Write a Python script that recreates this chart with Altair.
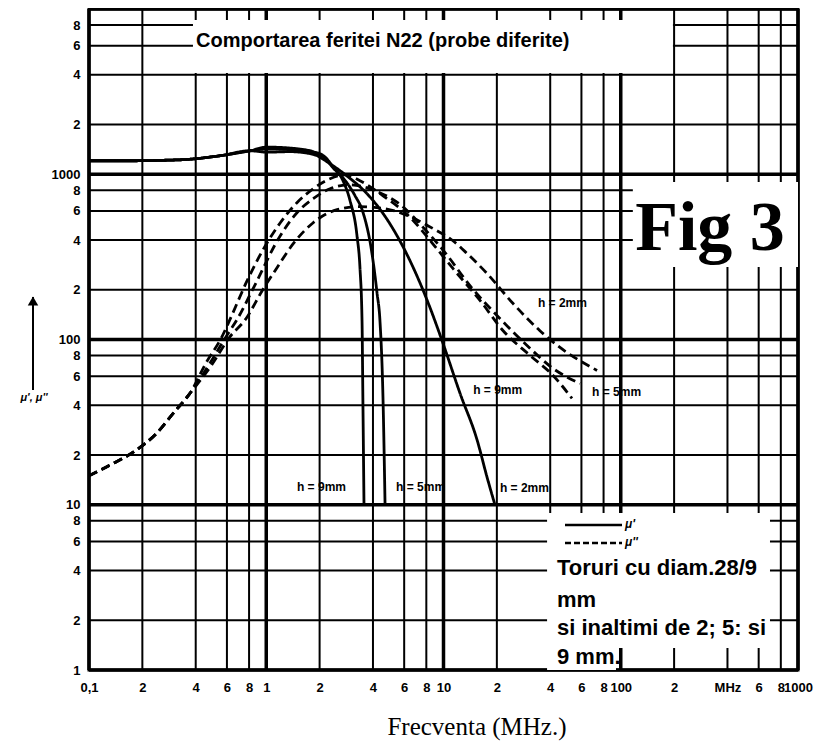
import json
import altair as alt
import pandas as pd

# ---------------- data ----------------
x_tick_values = [0.1, 0.2, 0.4, 0.6, 0.8, 1, 2, 4, 6, 8, 10, 20, 40, 60, 80, 100, 200, 400, 600, 800, 1000]
x_tick_labels = ["0,1", "2", "4", "6", "8", "1", "2", "4", "6", "8", "10", "2", "4", "6", "8", "100", "2", "MHz", "6", "8", "1000"]
x_major = [0.1, 1, 10, 100, 1000]

y_tick_values = [1, 2, 4, 6, 8, 10, 20, 40, 60, 80, 100, 200, 400, 600, 800, 1000, 2000, 4000, 6000, 8000]
y_tick_labels = ["1", "2", "4", "6", "8", "10", "2", "4", "6", "8", "100", "2", "4", "6", "8", "1000", "2", "4", "6", "8"]
y_major = [1, 10, 100, 1000, 10000]

# mu' (solid) curves: common low-frequency part, then each sample
solid_common_f = [0.1, 0.17, 0.33, 0.55, 0.81]
solid_common_mu = [1207, 1207, 1224, 1295, 1387]
s9_f = [1.01, 1.36, 1.84, 2.15, 2.38, 2.71, 2.97, 3.25, 3.38, 3.47, 3.51, 3.56]
s9_mu = [1460, 1440, 1370, 1270, 1110, 914, 692, 425, 269, 130, 42.8, 10]
s5_f = [1.01, 1.36, 1.84, 2.15, 2.38, 2.71, 3.17, 3.51, 3.95, 4.22, 4.38, 4.56, 4.68]
s5_mu = [1420, 1410, 1349, 1250, 1095, 952, 741, 590, 331, 190, 130, 42.8, 10]
s2_f = [1.01, 1.36, 1.84, 2.29, 2.85, 3.70, 4.80, 6.47, 8.39, 9.94, 12.4, 15.5, 17.6, 19.5]
s2_mu = [1360, 1370, 1320, 1157, 977, 763, 534, 300, 156, 94.6, 47.2, 24.5, 14.7, 10]

# mu'' (dashed) curves
dash_common_f = [0.1, 0.13, 0.18, 0.24, 0.3, 0.37]
dash_common_mu = [15, 17.3, 21, 27, 36, 47]
d9_f = [0.46, 0.56, 0.62, 0.78, 0.96, 1.2, 1.49, 1.84, 2.29, 2.78, 3.38, 4.56, 6.47, 8.73, 11.3, 16.1, 21.7, 30.8, 41.5, 53.1]
d9_mu = [73, 103, 130, 227, 350, 509, 673, 817, 940, 993, 914, 741, 550, 378, 269, 172, 113, 80, 60.6, 44]
d5_f = [0.48, 0.59, 0.69, 0.86, 1.2, 1.49, 1.84, 2.29, 2.97, 4.11, 5.68, 7.86, 10.2, 14.1, 20.8, 29.6, 41.5, 58.9]
d5_mu = [71.6, 103, 134, 212, 425, 585, 711, 817, 864, 795, 657, 464, 336, 212, 134, 92, 66.8, 54.2]
d2_f = [0.49, 0.62, 0.77, 0.95, 1.15, 1.42, 1.84, 2.51, 3.38, 4.68, 6.47, 8.73, 11.3, 13.6, 17.6, 24.7, 35.0, 45.4, 73.5]
d2_mu = [69.7, 103, 134, 198, 272, 380, 509, 610, 637, 619, 554, 469, 396, 331, 251, 165, 113, 89.5, 65]

# curve labels
label_texts = ["h = 2mm", "h = 9mm", "h = 5mm", "h = 9mm", "h = 5mm", "h = 2mm"]
label_f = [34.1, 14.7, 68.9, 1.49, 5.4, 20.8]
label_mu = [166, 49.5, 48.1, 12.8, 12.8, 12.6]

# white boxes behind texts (frequency / mu extents)
box_f1 = [0.386, 117, 38.4, 38.4]
box_f2 = [197, 1000, 695, 94]
box_mu1 = [4100, 275, 1.36, 1.0]
box_mu2 = [8580, 898, 8.9, 1.36]

title_text = "Comportarea feritei N22 (probe diferite)"
fig_text = "Fig 3"
legend_lines = ["Toruri cu diam.28/9", "mm", "si inaltimi de 2; 5: si", "9 mm."]
x_title = "Frecventa (MHz.)"
y_title = "μ', μ''"

# ---------------- build tables ----------------
rows = []
for name, kind, fs, ms in [
    ("s9", "solid", solid_common_f + s9_f, solid_common_mu + s9_mu),
    ("s5", "solid", solid_common_f + s5_f, solid_common_mu + s5_mu),
    ("s2", "solid", solid_common_f + s2_f, solid_common_mu + s2_mu),
    ("d9", "dashed", dash_common_f + d9_f, dash_common_mu + d9_mu),
    ("d5", "dashed", dash_common_f + d5_f, dash_common_mu + d5_mu),
    ("d2", "dashed", dash_common_f + d2_f, dash_common_mu + d2_mu),
]:
    for i, (f, m) in enumerate(zip(fs, ms)):
        rows.append({"curve": name, "kind": kind, "i": i, "f": f, "mu": m})
curves_df = pd.DataFrame(rows)

vgrid = pd.DataFrame({"f": x_tick_values, "major": [v in x_major for v in x_tick_values]})
hgrid_vals = y_tick_values + [10000]
hgrid = pd.DataFrame({"mu": hgrid_vals, "major": [v in y_major for v in hgrid_vals]})
labels_df = pd.DataFrame({"t": label_texts, "f": label_f, "mu": label_mu})
boxes_df = pd.DataFrame({"f1": box_f1, "f2": box_f2, "mu1": box_mu1, "mu2": box_mu2})

W, H = 709, 661
FONT = "Liberation Sans"

x_expr = "[" + ",".join(json.dumps(s) for s in x_tick_labels) + "][indexof(" + json.dumps(x_tick_values) + ", datum.value)]"
y_expr = "[" + ",".join(json.dumps(s) for s in y_tick_labels) + "][indexof(" + json.dumps(y_tick_values) + ", datum.value)]"

xscale = alt.Scale(type="log", domain=[0.1, 1000], nice=False)
yscale = alt.Scale(type="log", domain=[1, 10000], nice=False)
xaxis = alt.Axis(values=x_tick_values, labelExpr=x_expr, grid=False, ticks=False, domain=False,
                 labelFont=FONT, labelFontWeight="bold", labelFontSize=13, labelColor="black",
                 labelPadding=11, labelFlush=False, labelOverlap=False, labelBound=False, title=None)
yaxis = alt.Axis(values=y_tick_values, labelExpr=y_expr, grid=False, ticks=False, domain=False,
                 labelFont=FONT, labelFontWeight="bold", labelFontSize=13, labelColor="black",
                 labelPadding=9, labelFlush=False, labelOverlap=False, labelBound=False, title=None)


def X(field="f"):
    return alt.X(f"{field}:Q", scale=xscale, axis=xaxis)


def Y(field="mu"):
    return alt.Y(f"{field}:Q", scale=yscale, axis=yaxis)


width_scale = alt.Scale(domain=[True, False], range=[3.5, 2])

grid_v = alt.Chart(vgrid).mark_rule(color="black").encode(
    x=X(), strokeWidth=alt.StrokeWidth("major:N", scale=width_scale, legend=None))
grid_h = alt.Chart(hgrid).mark_rule(color="black").encode(
    y=Y(), strokeWidth=alt.StrokeWidth("major:N", scale=width_scale, legend=None))

boxes = alt.Chart(boxes_df).mark_rect(fill="white", stroke=None).encode(
    x=X("f1"), x2="f2", y=Y("mu1"), y2="mu2")

lines = alt.Chart(curves_df).mark_line(color="black", strokeWidth=2.8, interpolate="monotone").encode(
    x=X(), y=Y(), detail="curve:N", order="i:Q",
    strokeDash=alt.StrokeDash("kind:N", scale=alt.Scale(domain=["solid", "dashed"], range=[[1, 0], [9, 5]]),
                              legend=None))

curve_labels = alt.Chart(labels_df).mark_text(align="left", baseline="middle", font=FONT,
                                               fontWeight="bold", fontSize=12, color="black").encode(
    x=X(), y=Y(), text="t:N")

one = alt.Data(values=[{"a": 1}])


def txt(text, x, y, **kw):
    return alt.Chart(one).mark_text(text=text, color="black", **kw).encode(x=alt.value(x), y=alt.value(y))


title_mark = txt(title_text, 107, 32, align="left", baseline="middle", font=FONT, fontWeight="bold", fontSize=20)
fig_mark = txt(fig_text, 621, 241, align="center", baseline="alphabetic", font="Liberation Serif",
               fontWeight="bold", fontSize=70)
leg_texts = [txt(s, 468, yy, align="left", baseline="middle", font=FONT, fontWeight="bold", fontSize=22)
             for s, yy in zip(legend_lines, [559, 591, 619, 648])]
leg_solid = alt.Chart(one).mark_rule(color="black", strokeWidth=2.5).encode(
    x=alt.value(476), x2=alt.value(533), y=alt.value(516))
leg_dash = alt.Chart(one).mark_rule(color="black", strokeWidth=2.5, strokeDash=[6, 3]).encode(
    x=alt.value(476), x2=alt.value(533), y=alt.value(534))
leg_l1 = txt("μ'", 536, 515, align="left", baseline="middle", font=FONT, fontWeight="bold",
             fontStyle="italic", fontSize=12)
leg_l2 = txt("μ''", 536, 533, align="left", baseline="middle", font=FONT, fontWeight="bold",
             fontStyle="italic", fontSize=12)
xtitle_mark = txt(x_title, 388, 718, align="center", baseline="middle", font="Liberation Serif", fontSize=25)
ytitle_mark = txt(y_title, -55, 389, align="center", baseline="middle", font=FONT, fontWeight="bold",
                  fontStyle="italic", fontSize=11)
arrow_line = alt.Chart(one).mark_rule(color="black", strokeWidth=2).encode(
    x=alt.value(-56), y=alt.value(288), y2=alt.value(381))
arrow_head = alt.Chart(one).mark_point(shape="triangle-up", filled=True, color="black", size=110, opacity=1).encode(
    x=alt.value(-56), y=alt.value(292))

chart = alt.layer(
    grid_v, grid_h, boxes, lines, curve_labels, title_mark, fig_mark, *leg_texts,
    leg_solid, leg_dash, leg_l1, leg_l2, xtitle_mark, ytitle_mark, arrow_line, arrow_head
).properties(
    width=W, height=H,
    autosize=alt.AutoSizeParams(type="none"),
    padding={"left": 81, "top": 1, "right": 30, "bottom": 76},
    background="white",
).configure_view(stroke="black", strokeWidth=3)

chart.save("out.html", embed_options={"renderer": "svg", "actions": False})
